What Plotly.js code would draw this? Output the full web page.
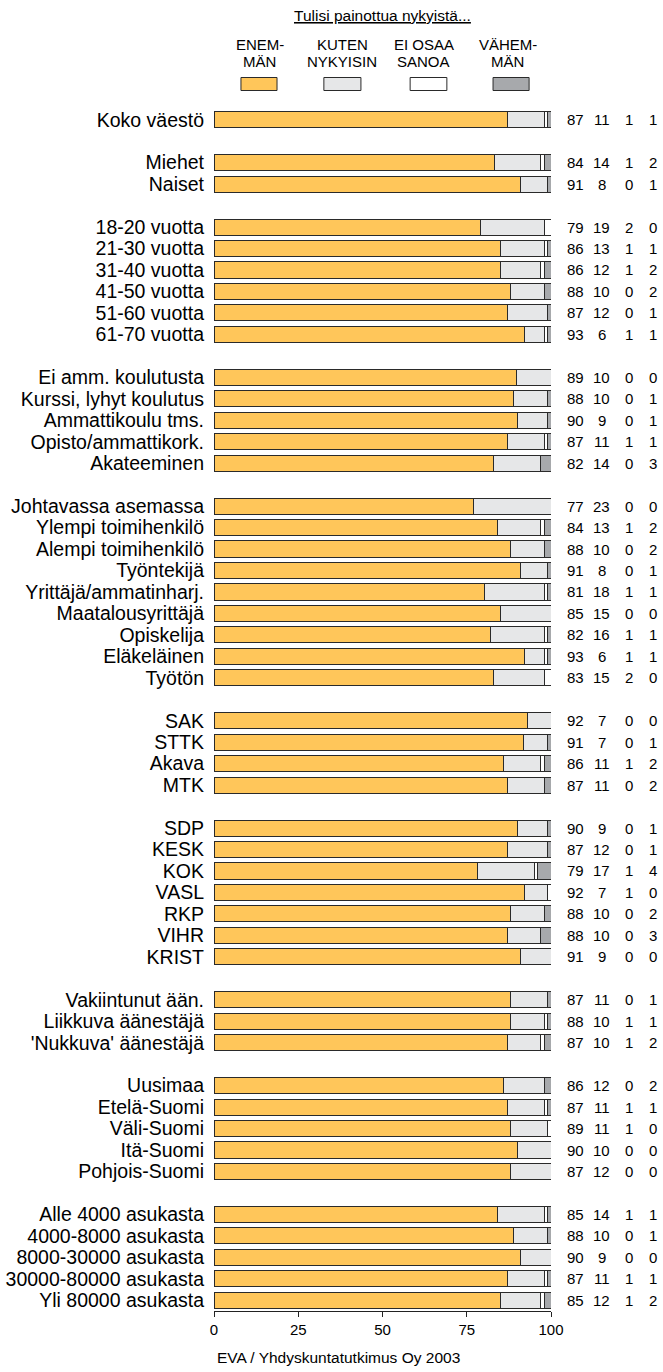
<!DOCTYPE html>
<html>
<head>
<meta charset="utf-8">
<script src="https://cdn.plot.ly/plotly-3.0.1.min.js"></script>
<style>html,body{margin:0;padding:0;background:#fff;}#chart{width:663px;height:1372px;}</style>
</head>
<body>
<div id="chart"></div>
<script>
// ---- DATA ----
const categories = [
  "Koko väestö",
  "Miehet", "Naiset",
  "18-20 vuotta", "21-30 vuotta", "31-40 vuotta", "41-50 vuotta", "51-60 vuotta", "61-70 vuotta",
  "Ei amm. koulutusta", "Kurssi, lyhyt koulutus", "Ammattikoulu tms.", "Opisto/ammattikork.", "Akateeminen",
  "Johtavassa asemassa", "Ylempi toimihenkilö", "Alempi toimihenkilö", "Työntekijä", "Yrittäjä/ammatinharj.", "Maatalousyrittäjä", "Opiskelija", "Eläkeläinen", "Työtön",
  "SAK", "STTK", "Akava", "MTK",
  "SDP", "KESK", "KOK", "VASL", "RKP", "VIHR", "KRIST",
  "Vakiintunut ään.", "Liikkuva äänestäjä", "'Nukkuva' äänestäjä",
  "Uusimaa", "Etelä-Suomi", "Väli-Suomi", "Itä-Suomi", "Pohjois-Suomi",
  "Alle 4000 asukasta", "4000-8000 asukasta", "8000-30000 asukasta", "30000-80000 asukasta", "Yli 80000 asukasta"
];
const groupSizes = [1, 2, 6, 5, 9, 4, 7, 3, 5, 5];

const enemman = [87, 84, 91, 79, 86, 86, 88, 87, 93, 89, 88, 90, 87, 82, 77, 84, 88, 91, 81, 85, 82, 93, 83, 92, 91, 86, 87, 90, 87, 79, 92, 88, 88, 91, 87, 88, 87, 86, 87, 89, 90, 87, 85, 88, 90, 87, 85];
const kuten   = [11, 14, 8, 19, 13, 12, 10, 12, 6, 10, 10, 9, 11, 14, 23, 13, 10, 8, 18, 15, 16, 6, 15, 7, 7, 11, 11, 9, 12, 17, 7, 10, 10, 9, 11, 10, 10, 12, 11, 11, 10, 12, 14, 10, 9, 11, 12];
const eiOsaa  = [1, 1, 0, 2, 1, 1, 0, 0, 1, 0, 0, 0, 1, 0, 0, 1, 0, 0, 1, 0, 1, 1, 2, 0, 0, 1, 0, 0, 0, 1, 1, 0, 0, 0, 0, 1, 1, 0, 1, 1, 0, 0, 1, 0, 0, 1, 1];
const vahemman= [1, 2, 1, 0, 1, 2, 2, 1, 1, 0, 1, 1, 1, 3, 0, 2, 2, 1, 1, 0, 1, 1, 0, 0, 1, 2, 2, 1, 1, 4, 0, 2, 3, 0, 1, 1, 2, 2, 1, 0, 0, 0, 1, 1, 0, 1, 2];

const seriesNames = ["ENEM-MÄN", "KUTEN NYKYISIN", "EI OSAA SANOA", "VÄHEM-MÄN"];
const legendLine1 = ["ENEM-", "KUTEN", "EI OSAA", "VÄHEM-"];
const legendLine2 = ["MÄN", "NYKYISIN", "SANOA", "MÄN"];
const legendTitle = "Tulisi painottua nykyistä...";
const xTicks = [0, 25, 50, 75, 100];
const source = "EVA / Yhdyskuntatutkimus Oy 2003";

// ---- STYLE ----
const colors = ["#FFC65A", "#E6E7E8", "#FFFFFF", "#A7A9AC"];
const FONT = "Liberation Sans, Arial, Helvetica, sans-serif";
const TXT = "#000000";

// row positions: one empty slot between groups
const ypos = [];
let slot = 0;
groupSizes.forEach((n) => {
  for (let i = 0; i < n; i++) { ypos.push(slot); slot++; }
  slot++;
});
const lastSlot = ypos[ypos.length - 1];

const seriesData = [enemman, kuten, eiOsaa, vahemman];
const traces = seriesData.map((vals, k) => ({
  type: "bar",
  orientation: "h",
  x: vals,
  y: ypos,
  width: 0.75,
  name: seriesNames[k],
  marker: { color: colors[k], line: { color: "#2a2a2a", width: 1 } },
  hoverinfo: "skip",
  showlegend: false
}));

// plot geometry helpers (paper units)
const plotTop = 109, plotBottom = 1311, plotH = plotBottom - plotTop;
const py = (Y) => (plotBottom - Y) / plotH;

const annotations = [];
// value columns
const colX = [1.074, 1.151, 1.231, 1.303];
seriesData.forEach((vals, k) => {
  vals.forEach((v, i) => {
    annotations.push({
      xref: "paper", yref: "y", x: colX[k], y: ypos[i],
      text: String(v), showarrow: false, xanchor: "center", yanchor: "middle",
      font: { family: FONT, size: 15, color: TXT }
    });
  });
});
// legend title
annotations.push({
  xref: "x", yref: "paper", x: 50, y: py(15), text: "<u>" + legendTitle + "</u>",
  showarrow: false, xanchor: "center", yanchor: "middle",
  font: { family: FONT, size: 15.5, color: TXT }
});
// legend labels and swatches
const legTextX = [13.6, 38.0, 62.3, 87.2];
const swX0 = [8.0, 32.6, 58.2, 82.8];
const swX1 = [18.7, 43.6, 69.1, 93.5];
const shapes = [];
for (let k = 0; k < 4; k++) {
  annotations.push({
    xref: "x", yref: "paper", x: legTextX[k], y: py(44), text: legendLine1[k],
    showarrow: false, xanchor: "center", yanchor: "middle",
    font: { family: FONT, size: 15, color: TXT }
  });
  annotations.push({
    xref: "x", yref: "paper", x: legTextX[k], y: py(61), text: legendLine2[k],
    showarrow: false, xanchor: "center", yanchor: "middle",
    font: { family: FONT, size: 15, color: TXT }
  });
  shapes.push({
    type: "rect", xref: "x", yref: "paper",
    x0: swX0[k], x1: swX1[k], y0: py(90.5), y1: py(77.5),
    fillcolor: colors[k], line: { color: "#2a2a2a", width: 1 }
  });
}
// source
annotations.push({
  xref: "paper", yref: "paper", x: 0.37, y: py(1357), text: source,
  showarrow: false, xanchor: "center", yanchor: "middle",
  font: { family: FONT, size: 15.5, color: TXT }
});

const layout = {
  width: 663, height: 1372,
  margin: { l: 214, r: 112, t: plotTop, b: 1372 - plotBottom, pad: 0 },
  paper_bgcolor: "#ffffff", plot_bgcolor: "#ffffff",
  barmode: "stack", barnorm: "percent",
  font: { family: FONT, color: TXT },
  showlegend: false,
  xaxis: {
    range: [0, 100], tickvals: xTicks, ticktext: xTicks.map(String),
    showgrid: false, zeroline: false, showline: true, linecolor: "#222", linewidth: 1,
    ticks: "outside", ticklen: 5, tickcolor: "#222", tickwidth: 1,
    tickfont: { family: FONT, size: 15, color: TXT }, fixedrange: true
  },
  yaxis: {
    range: [lastSlot + 0.5, -0.5], tickvals: ypos, ticktext: categories,
    showgrid: false, zeroline: false, showline: false, ticks: "",
    ticklabelstandoff: 9,
    tickfont: { family: FONT, size: 19.5, color: TXT }, fixedrange: true
  },
  annotations: annotations,
  shapes: shapes
};

Plotly.newPlot("chart", traces, layout, { displayModeBar: false, staticPlot: true });
</script>
</body>
</html>
